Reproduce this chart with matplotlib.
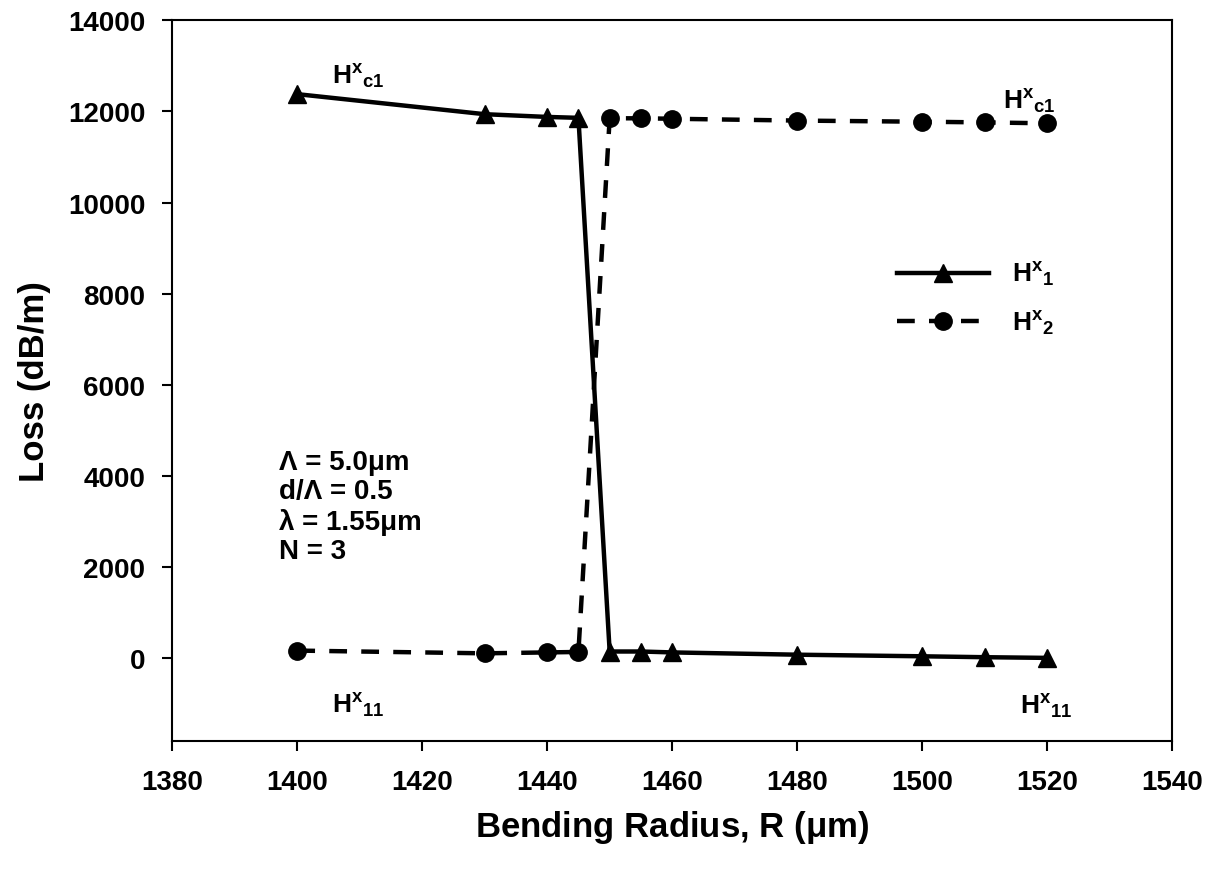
import numpy as np
import matplotlib
matplotlib.use("Agg")
import matplotlib.pyplot as plt

plt.rcParams['font.family'] = ['Liberation Sans', 'DejaVu Sans']
plt.rcParams['font.weight'] = 'bold'
plt.rcParams['mathtext.fontset'] = 'custom'
plt.rcParams['mathtext.bf'] = 'Liberation Sans:bold'
plt.rcParams['mathtext.rm'] = 'Liberation Sans:bold'
plt.rcParams['mathtext.it'] = 'Liberation Sans:bold'
plt.rcParams['mathtext.default'] = 'bf'

# Bending radius (um)
radius = [1400, 1430, 1440, 1445, 1450, 1455, 1460, 1480, 1500, 1510, 1520]
# loss (dB/m)
loss_h1 = [12380, 11940, 11880, 11860, 150, 150, 130, 80, 45, 25, 10]
loss_h2 = [170, 110, 130, 140, 11850, 11850, 11840, 11800, 11775, 11760, 11740]

x_ticks = [1380, 1400, 1420, 1440, 1460, 1480, 1500, 1520, 1540]
y_ticks = [0, 2000, 4000, 6000, 8000, 10000, 12000, 14000]

fig = plt.figure(figsize=(12.16, 8.70), dpi=100)
ax = fig.add_axes([0.1417, 0.1468, 0.8221, 0.8287])

ax.plot(radius, loss_h1, color='black', lw=3.2, marker='^', ms=13,
        label=r'$H^{x}{}_{1}$')
ax.plot(radius, loss_h2, color='black', lw=3.2, marker='o', ms=12.5,
        dashes=(4, 3.2), label=r'$H^{x}{}_{2}$')

ax.set_xlim(1380, 1540)
ax.set_ylim(-1820, 14000)
ax.set_xticks(x_ticks)
ax.set_yticks(y_ticks)
for s in ax.spines.values():
    s.set_linewidth(1.5)
ax.tick_params(direction='out', length=7, width=1.5, labelsize=20,
               top=False, right=False)
ax.tick_params(axis='x', pad=13)
ax.tick_params(axis='y', pad=12.5)

ax.set_xlabel(r'Bending Radius, R ($\mu$m)', fontsize=25, fontweight='bold', labelpad=9)
ax.set_ylabel('Loss (dB/m)', fontsize=25, fontweight='bold', labelpad=12)

# mode labels
ax.text(1405.6, 12620, r'$H^{x}{}_{c1}$', fontsize=19, va='baseline')
ax.text(1513, 12070, r'$H^{x}{}_{c1}$', fontsize=19, va='baseline')
ax.text(1405.6, -1180, r'$H^{x}{}_{11}$', fontsize=19, va='baseline')
ax.text(1515.7, -1220, r'$H^{x}{}_{11}$', fontsize=19, va='baseline')

ax.text(1397, 4600, 'Λ = 5.0μm\nd/Λ = 0.5\nλ = 1.55μm\nN = 3',
        fontsize=20, fontweight='bold', va='top', linespacing=1.17)

leg = ax.legend(loc='upper left', bbox_to_anchor=(897 / 1216, 1 - 261 / 870),
                bbox_transform=fig.transFigure, frameon=False, fontsize=19,
                handlelength=3.5, handletextpad=0.85, labelspacing=0.78,
                borderpad=0, borderaxespad=0)

fig.savefig('out.png', dpi=100)
